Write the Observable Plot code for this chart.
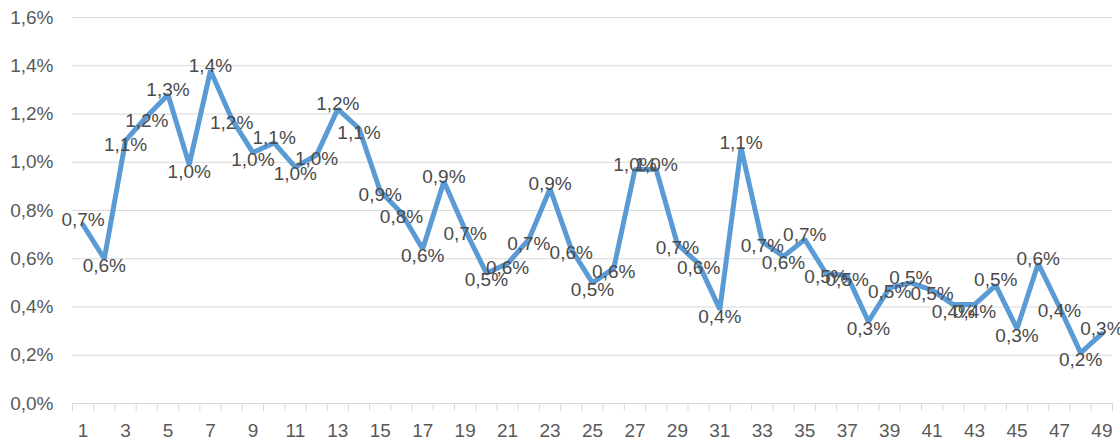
<!DOCTYPE html>
<html><head><meta charset="utf-8">
<script src="https://cdn.jsdelivr.net/npm/d3@7"></script>
<script src="https://cdn.jsdelivr.net/npm/@observablehq/plot@0.6"></script>
<style>body{margin:0;background:#fff}</style>
</head><body><div id="chart"></div>
<script>
const categories = [1,2,3,4,5,6,7,8,9,10,11,12,13,14,15,16,17,18,19,20,21,22,23,24,25,26,27,28,29,30,31,32,33,34,35,36,37,38,39,40,41,42,43,44,45,46,47,48,49];
const values = [0.74,0.60,1.09,1.19,1.28,0.99,1.38,1.18,1.04,1.08,0.98,1.03,1.22,1.14,0.88,0.79,0.64,0.92,0.72,0.54,0.58,0.68,0.89,0.64,0.50,0.56,0.97,0.97,0.66,0.58,0.39,1.06,0.67,0.61,0.68,0.54,0.53,0.34,0.48,0.50,0.47,0.41,0.41,0.49,0.31,0.58,0.40,0.21,0.29];
const yTicks = [0,0.2,0.4,0.6,0.8,1.0,1.2,1.4,1.6];
const xTickLabels = [1,3,5,7,9,11,13,15,17,19,21,23,25,27,29,31,33,35,37,39,41,43,45,47,49];

const fmt = v => v.toFixed(1).replace(".", ",") + "%";
const data = categories.map((c, i) => {
  const v = values[i];
  const prev = i > 0 ? values[i - 1] : -Infinity;
  const next = i < values.length - 1 ? values[i + 1] : -Infinity;
  const prevMin = i > 0 ? values[i - 1] : Infinity;
  const nextMin = i < values.length - 1 ? values[i + 1] : Infinity;
  let kind = "mid";
  if (v >= prev && v >= next) kind = "max";
  else if (v <= prevMin && v <= nextMin) kind = "min";
  return {c, v, kind};
});
const edges = categories.map(c => c - 0.5).concat([categories[categories.length - 1] + 0.5]);

const labelStyle = {x: "c", y: "v", text: d => fmt(d.v), fill: "#4a4a4a", fontSize: 19};

const chart = Plot.plot({
  width: 1120, height: 441,
  marginLeft: 72, marginRight: 8, marginTop: 17, marginBottom: 38,
  style: {fontFamily: "'Liberation Sans', Arial, sans-serif", fontSize: "19px", color: "#595959", background: "#fff"},
  x: {type: "linear", domain: [0.5, 49.5]},
  y: {domain: [0, 1.6]},
  marks: [
    Plot.gridY(yTicks, {stroke: "#d9d9d9", strokeOpacity: 1}),
    Plot.axisY(yTicks, {tickSize: 0, tickPadding: 19, tickFormat: fmt, fontSize: 19, fill: "#595959", label: null}),
    Plot.axisX(xTickLabels, {tickSize: 0, tickPadding: 20, fontSize: 19, fill: "#595959", label: null}),
    Plot.axisX(edges, {tickSize: 8, tickFormat: () => "", stroke: "#d9d9d9", strokeOpacity: 1, label: null}),
    Plot.ruleY([0], {stroke: "#d9d9d9"}),
    Plot.lineY(data, {x: "c", y: "v", stroke: "#5b9bd5", strokeWidth: 5, strokeLinejoin: "miter"}),
    Plot.text(data, {...labelStyle, filter: d => d.kind === "max", dy: -5}),
    Plot.text(data, {...labelStyle, filter: d => d.kind === "min", dy: 7}),
    Plot.text(data, {...labelStyle, filter: d => d.kind === "mid", dy: 4})
  ]
});
document.getElementById("chart").appendChild(chart);
</script>
</body></html>
